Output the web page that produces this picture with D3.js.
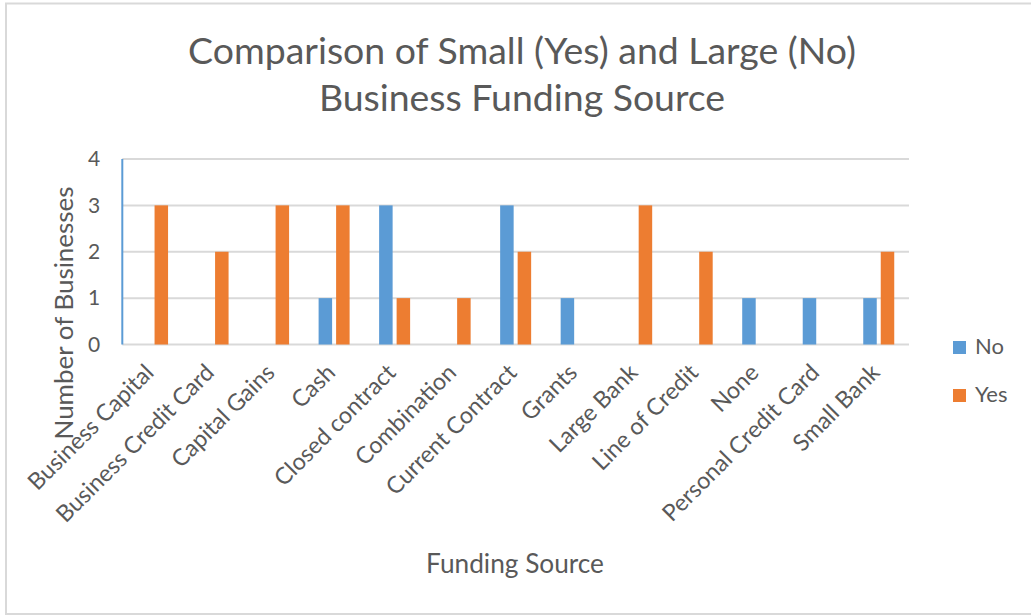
<!DOCTYPE html>
<html>
<head>
<meta charset="utf-8">
<script src="https://cdn.jsdelivr.net/npm/d3@7"></script>
<style>
  html, body { margin: 0; padding: 0; background: #ffffff; }
  svg { display: block; }
  text { font-family: Lato, "Open Sans", sans-serif; fill: #595959; }
</style>
</head>
<body>
<svg id="chart" width="1031" height="615"></svg>
<script>
// Funding sources and counts per business size
const categories = [
  "Business Capital", "Business Credit Card", "Capital Gains", "Cash",
  "Closed contract", "Combination", "Current Contract", "Grants",
  "Large Bank", "Line of Credit", "None", "Personal Credit Card", "Small Bank"
];
const noValues  = [0, 0, 0, 1, 3, 0, 3, 1, 0, 0, 1, 1, 1];
const yesValues = [3, 2, 3, 3, 1, 1, 2, 0, 3, 2, 0, 0, 2];
const seriesNames = ["No", "Yes"];
const seriesColors = ["#5B9BD5", "#ED7D31"];
const yTicks = [0, 1, 2, 3, 4];
const titleLines = ["Comparison of Small (Yes) and Large (No)", "Business Funding Source"];
const xTitle = "Funding Source";
const yTitle = "Number of Businesses";

const svg = d3.select("#chart");
const W = 1031, H = 615;
const plot = { left: 122.3, right: 909, top: 159, bottom: 344.5 };

// scale a text element's font size so it spans the given width
function fitWidth(sel, target) {
  const w = sel.node().getComputedTextLength();
  const fs = parseFloat(sel.attr("font-size"));
  const nfs = fs * target / w;
  sel.attr("font-size", nfs);
  return nfs;
}

// chart frame
svg.append("rect")
  .attr("x", 6).attr("y", 3.5)
  .attr("width", W + 10).attr("height", 610.5)
  .attr("fill", "#ffffff")
  .attr("stroke", "#D9D9D9").attr("stroke-width", 2);

// scales
const x0 = d3.scaleBand().domain(categories).range([plot.left, plot.right]).padding(0);
const bw = x0.bandwidth();
const groupW = 31;
const x1 = d3.scaleBand().domain(seriesNames)
  .range([bw / 2 - groupW / 2, bw / 2 + groupW / 2])
  .paddingInner(4 / 17.5).paddingOuter(0);
const y = d3.scaleLinear().domain([0, 4]).range([plot.bottom, plot.top]);

// gridlines
svg.append("g").selectAll("line")
  .data(yTicks)
  .join("line")
  .attr("x1", plot.left).attr("x2", plot.right)
  .attr("y1", d => y(d)).attr("y2", d => y(d))
  .attr("stroke", "#D9D9D9").attr("stroke-width", 2);

// left axis line
svg.append("line")
  .attr("x1", plot.left).attr("x2", plot.left)
  .attr("y1", y(4)).attr("y2", y(0))
  .attr("stroke", "#5B9BD5").attr("stroke-width", 2);

// y tick labels
const yAxis = d3.axisLeft(y).tickValues(yTicks).tickFormat(d3.format("d")).tickSize(0).tickPadding(22);
const yg = svg.append("g").attr("transform", `translate(${plot.left},0)`).call(yAxis);
yg.select(".domain").remove();
yg.selectAll("text")
  .attr("font-size", 21)
  .attr("font-family", "Lato, 'Open Sans', sans-serif")
  .attr("fill", "#595959");

// bars
const rows = categories.map((c, i) => ({ cat: c, vals: [noValues[i], yesValues[i]] }));
const groups = svg.append("g").selectAll("g")
  .data(rows)
  .join("g")
  .attr("transform", d => `translate(${x0(d.cat)},0)`);
groups.selectAll("rect")
  .data(d => d.vals.map((v, k) => ({ key: seriesNames[k], v, k })).filter(e => e.v > 0))
  .join("rect")
  .attr("x", d => x1(d.key))
  .attr("width", x1.bandwidth())
  .attr("y", d => y(d.v))
  .attr("height", d => y(0) - y(d.v))
  .attr("fill", d => seriesColors[d.k]);

// category labels, rotated
const xl = svg.append("g");
const probe = xl.append("text").attr("font-size", 20).text("Business Credit Card");
const xfs = fitWidth(probe, 212);
probe.remove();
xl.selectAll("text")
  .data(categories)
  .join("text")
  .attr("font-size", xfs)
  .attr("text-anchor", "end")
  .attr("transform", d => `translate(${x0(d) + bw / 2 + 2.5},374) rotate(-45)`)
  .text(d => d);

// title
const t1 = svg.append("text").attr("x", 522).attr("y", 64)
  .attr("text-anchor", "middle").attr("font-size", 30).text(titleLines[0]);
const tfs = fitWidth(t1, 668);
svg.append("text").attr("x", 522).attr("y", 111)
  .attr("text-anchor", "middle").attr("font-size", tfs).text(titleLines[1]);

// axis titles
const xt = svg.append("text").attr("x", 515).attr("y", 573)
  .attr("text-anchor", "middle").attr("font-size", 22).text(xTitle);
fitWidth(xt, 178);
const yt = svg.append("text")
  .attr("transform", "translate(73,313) rotate(-90)")
  .attr("text-anchor", "middle").attr("font-size", 22).text(yTitle);
fitWidth(yt, 253);

// legend
const legendY = [341, 389];
const lg = svg.append("g").selectAll("g")
  .data(seriesNames)
  .join("g")
  .attr("transform", (d, i) => `translate(953,${legendY[i]})`);
lg.append("rect").attr("width", 13).attr("height", 13)
  .attr("fill", (d, i) => seriesColors[i]);
lg.append("text").attr("x", 22).attr("y", 13)
  .attr("font-size", 22).text(d => d);
</script>
</body>
</html>
